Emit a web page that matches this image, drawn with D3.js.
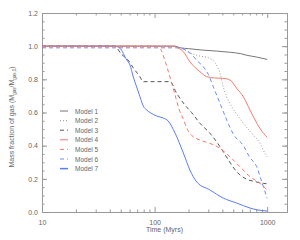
<!DOCTYPE html>
<html>
<head>
<meta charset="utf-8">
<script src="https://cdn.jsdelivr.net/npm/d3@7"></script>
<style>
  body { margin: 0; background: #fff; }
  svg { display: block; font-family: "Liberation Sans", Arial, sans-serif; }
</style>
</head>
<body>
<svg id="chart"></svg>
<script>
// time (Myrs), mass fraction of gas
const model1 = [[10,1.0],[150,1.0],[170,0.99],[200,0.985],[260,0.977],[360,0.97],[470,0.963],[580,0.955],[660,0.945],[800,0.935],[1000,0.92]];
const model2 = [[10,1.0],[150,1.0],[175,0.985],[206,0.96],[253,0.94],[300,0.93],[344,0.9],[381,0.836],[407,0.755],[437,0.695],[484,0.635],[536,0.59],[614,0.535],[728,0.475],[863,0.414],[956,0.354],[1000,0.333]];
const model3 = [[10,1.0],[44,1.0],[51,0.95],[58,0.917],[65,0.867],[74,0.816],[79,0.786],[137,0.786],[157,0.716],[186,0.645],[213,0.6],[253,0.535],[310,0.475],[381,0.394],[452,0.314],[536,0.243],[635,0.203],[780,0.183],[923,0.173],[1000,0.17]];
const model4 = [[10,1.0],[150,1.0],[160,0.99],[180,0.967],[206,0.906],[253,0.846],[290,0.816],[340,0.808],[407,0.806],[467,0.796],[536,0.746],[614,0.695],[703,0.615],[780,0.555],[870,0.5],[1000,0.45]];
const model5 = [[10,1.0],[100,1.0],[112,0.985],[124,0.91],[132,0.85],[150,0.72],[165,0.62],[180,0.56],[195,0.5],[215,0.46],[253,0.434],[310,0.414],[381,0.384],[467,0.333],[573,0.273],[703,0.213],[863,0.173],[1000,0.133]];
const model6 = [[10,0.99],[165,0.99],[190,0.975],[210,0.955],[240,0.91],[271,0.876],[300,0.83],[332,0.756],[381,0.656],[437,0.555],[500,0.47],[614,0.4],[700,0.33],[807,0.273],[894,0.183],[1000,0.083]];
const model7 = [[10,1.0],[44,1.0],[49,0.989],[56.5,0.917],[60.4,0.887],[64.7,0.814],[69.3,0.754],[74.2,0.694],[79.4,0.639],[85,0.615],[91,0.6],[104,0.579],[119,0.567],[132,0.549],[152,0.476],[180,0.356],[206,0.253],[237,0.181],[310,0.133],[407,0.084],[536,0.054],[703,0.024],[829,0.012],[1000,0.006]];

const modelNames = ["Model 1","Model 2","Model 3","Model 4","Model 5","Model 6","Model 7"];
const modelData = [model1, model2, model3, model4, model5, model6, model7];
const modelColors = ["#777","#999","#555","#f47a6a","#f47a6a","#6a8cf5","#5a7cf8"];
const modelDash = [null,"1,2","4,3",null,"4,3","4,3",null];

const xMajor = [10, 100, 1000];
const xMinor = [20,30,40,50,60,70,80,90,200,300,400,500,600,700,800,900];
const yMajor = [0, 0.2, 0.4, 0.6, 0.8, 1.0, 1.2];
const yMinor = d3.range(0, 1.2001, 0.05);

const width = 300, height = 240;
const margin = { top: 13, right: 13, bottom: 28, left: 42 };

const svg = d3.select("#chart").attr("width", width).attr("height", height);

const x = d3.scaleLog().domain([10, 1500]).range([margin.left, width - margin.right]);
const y = d3.scaleLinear().domain([0, 1.2]).range([height - margin.bottom, margin.top]);

const axisColor = "#999";
const textColor = "#666";

// axes, ticks inward
function styleAxis(g) {
    g.selectAll(".domain").attr("stroke", axisColor);
    g.selectAll(".tick line").attr("stroke", axisColor);
    g.selectAll(".tick text").attr("fill", textColor).style("font-size", "7px");
}

const yBottom = height - margin.bottom, yTop = margin.top;
const xLeft = margin.left, xRight = width - margin.right;

svg.append("g").attr("transform", `translate(0,${yBottom})`)
    .call(d3.axisBottom(x).tickValues(xMajor).tickFormat(d3.format("d")).tickSize(-5).tickSizeOuter(0).tickPadding(8))
    .call(styleAxis);
svg.append("g").attr("transform", `translate(0,${yBottom})`)
    .call(d3.axisBottom(x).tickValues(xMinor).tickFormat("").tickSize(-2.5).tickSizeOuter(0))
    .call(styleAxis);
svg.append("g").attr("transform", `translate(0,${yTop})`)
    .call(d3.axisTop(x).tickValues(xMajor).tickFormat("").tickSize(-5).tickSizeOuter(0))
    .call(styleAxis);
svg.append("g").attr("transform", `translate(0,${yTop})`)
    .call(d3.axisTop(x).tickValues(xMinor).tickFormat("").tickSize(-2.5).tickSizeOuter(0))
    .call(styleAxis);

svg.append("g").attr("transform", `translate(${xLeft},0)`)
    .call(d3.axisLeft(y).tickValues(yMajor).tickFormat(d3.format(".1f")).tickSize(-5).tickSizeOuter(0).tickPadding(4))
    .call(styleAxis);
svg.append("g").attr("transform", `translate(${xLeft},0)`)
    .call(d3.axisLeft(y).tickValues(yMinor).tickFormat("").tickSize(-2.5).tickSizeOuter(0))
    .call(styleAxis);
svg.append("g").attr("transform", `translate(${xRight},0)`)
    .call(d3.axisRight(y).tickValues(yMajor).tickFormat("").tickSize(-5).tickSizeOuter(0))
    .call(styleAxis);
svg.append("g").attr("transform", `translate(${xRight},0)`)
    .call(d3.axisRight(y).tickValues(yMinor).tickFormat("").tickSize(-2.5).tickSizeOuter(0))
    .call(styleAxis);

// axis titles
svg.append("text")
    .attr("x", (xLeft + xRight) / 2)
    .attr("y", 232)
    .attr("text-anchor", "middle")
    .attr("fill", textColor)
    .style("font-size", "7px")
    .text("Time (Myrs)");

const yt = svg.append("text")
    .attr("transform", "translate(14,117) rotate(-90)")
    .attr("text-anchor", "middle")
    .attr("fill", textColor)
    .style("font-size", "7px");
yt.append("tspan").text("Mass fraction of gas (M");
yt.append("tspan").attr("dy", 1.5).style("font-size", "4.5px").text("gas");
yt.append("tspan").attr("dy", -1.5).text("/M");
yt.append("tspan").attr("dy", 1.5).style("font-size", "4.5px").text("gas,0");
yt.append("tspan").attr("dy", -1.5).text(")");

// curves
const line = d3.line()
    .x(d => x(d[0]))
    .y(d => y(d[1]))
    .curve(d3.curveMonotoneX);

const order = [0, 1, 2, 5, 6, 4, 3];
order.forEach(i => {
    svg.append("path")
        .datum(modelData[i])
        .attr("d", line)
        .attr("fill", "none")
        .attr("stroke", modelColors[i])
        .attr("stroke-width", 1)
        .attr("stroke-dasharray", modelDash[i]);
});

// legend
const legend = svg.selectAll(".legend")
    .data(modelNames)
    .enter()
    .append("g")
    .attr("class", "legend")
    .attr("transform", (d, i) => `translate(60,${111 + i * 9.6})`);

legend.append("line")
    .attr("x1", 0).attr("x2", 8)
    .attr("stroke", (d, i) => modelColors[i])
    .attr("stroke-width", (d, i) => i === 6 ? 1.5 : 1)
    .attr("stroke-dasharray", (d, i) => modelDash[i]);

legend.append("text")
    .attr("x", 15)
    .attr("y", 2.5)
    .attr("fill", textColor)
    .style("font-size", "6.5px")
    .text(d => d);
</script>
</body>
</html>
